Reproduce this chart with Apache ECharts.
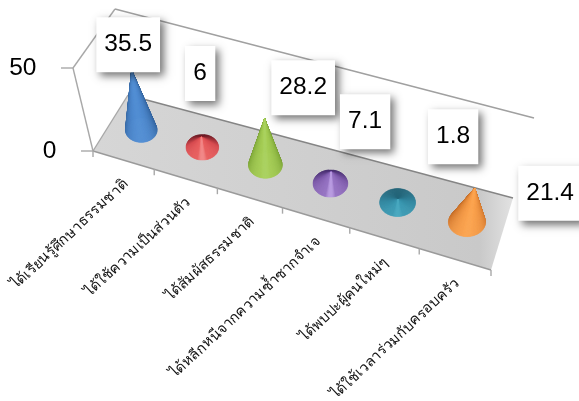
<!DOCTYPE html>
<html>
<head>
<meta charset="utf-8">
<style>html,body{margin:0;padding:0;background:#fff}#chart{width:579px;height:401px}</style>
<script src="https://cdn.jsdelivr.net/npm/echarts@6/dist/echarts.min.js"></script>
</head>
<body>
<div id="chart"></div>
<script>
// Survey answers, drawn as cones on a tilted 3D floor.
const categories = ['ได้เรียนรู้ศึกษาธรรมชาติ','ได้ใช้ความเป็นส่วนตัว','ได้สัมผัสธรรมชาติ','ได้หลีกหนีจากความซ้ำซากจำเจ','ได้พบปะผู้คนใหม่ๆ','ได้ใช้เวลาร่วมกับครอบครัว'];
const values = [35.5, 6, 28.2, 7.1, 1.8, 21.4];
const yTicks = [0, 50];

// Frame corners of the tilted box, front-left / front-right / back-right / back-left.
const FLOOR = [[93,151],[491,270],[513,198],[128,95]];
const CEIL  = [[73,68],[513,192],[534,118],[115,9]];
const PERSPECTIVE = 1.1;
const CONE_DEPTH = 0.525;
const FONT = '"Liberation Sans", Arial, sans-serif';

const lerp = (a, b, t) => a + (b - a) * t;
const lerp2 = (p, q, t) => [lerp(p[0], q[0], t), lerp(p[1], q[1], t)];
const warp = u => u / (u + (1 - u) * PERSPECTIVE);
function onPlane(q, u, v) {
  const w = warp(u);
  return lerp2(lerp2(q[0], q[1], w), lerp2(q[3], q[2], w), v);
}
// Turns a (category, value) pair, read through the chart's axes, into a point of the tilted box.
function locate(params, api, cat, value, depth) {
  const cs = params.coordSys;
  const base = api.coord([0, value]);
  const band = api.size([1, 0])[0];
  const u = (base[0] + cat * band - cs.x) / cs.width;
  const h = (cs.y + cs.height - base[1]) / cs.height;
  return lerp2(onPlane(FLOOR, u, depth), onPlane(CEIL, u, depth), h);
}
const line = (p, q, stroke, lineWidth) => ({
  type: 'line', silent: true,
  shape: { x1: p[0], y1: p[1], x2: q[0], y2: q[1] },
  style: { stroke, lineWidth: lineWidth || 1.4 }
});

function renderFrame(params, api) {
  const at = (c, v, d) => locate(params, api, c, v, d);
  const gray = '#a8a8a8';
  const children = [];
  children.push({
    type: 'polygon', silent: true,
    shape: { points: [at(-0.5,0,0), at(5.5,0,0), at(5.5,0,1), at(-0.5,0,1)] },
    style: { fill: new echarts.graphic.LinearGradient(0, 0, 1, 0, [
      { offset: 0, color: '#d6d6d6' }, { offset: 0.45, color: '#d0d0d0' },
      { offset: 0.92, color: '#c9c9c9' }, { offset: 1, color: '#e2e2e2' }]) }
  });
  children.push(line(at(-0.5,50,0), at(-0.5,50,1), gray));
  children.push(line(at(-0.5,50,1), at(5.5,50,1), '#a0a0a0'));
  children.push(line(at(-0.5,0,0), at(-0.5,50,0), gray));
  children.push(line(at(-0.5,0,0), at(-0.5,0,1), gray));
  children.push(line(at(-0.5,0,1), at(5.5,0,1), '#858585'));
  children.push(line(at(-0.5,0,0), at(5.5,0,0), '#9a9a9a'));
  for (let i = 0; i <= categories.length; i++) {
    const p = at(i - 0.5, 0, 0);
    children.push(line(p, [p[0], p[1] + 6], gray));
  }
  return { type: 'group', children };
}

function renderYLabel(params, api) {
  const p = locate(params, api, -0.5, api.value(1), 0);
  return { type: 'group', children: [
    line([p[0] - 12, p[1]], p, '#a8a8a8'),
    { type: 'text', silent: true, x: p[0] - 36.5, y: p[1] + 0.5,
      style: { text: String(api.value(1)), fill: '#000', font: '24.5px ' + FONT, align: 'right', verticalAlign: 'middle' } }
  ]};
}

function renderXLabel(params, api) {
  const i = api.value(0);
  const p = locate(params, api, i, 0, 0);
  return { type: 'text', silent: true, x: p[0] + 2, y: p[1] + 22, rotation: 43 * Math.PI / 180,
    style: { text: categories[i], fill: '#111', font: '14.5px "Noto Sans", sans-serif', align: 'right', verticalAlign: 'middle' } };
}

// back, side, front and highlight tones of each cone
const conePalette = [
  [[40,80,130],[55,105,165],[80,140,210],[82,142,212]],
  [[105,25,35],[215,75,80],[232,95,95],[242,135,135]],
  [[90,120,40],[130,170,60],[165,205,85],[170,210,95]],
  [[70,45,110],[125,90,170],[150,115,195],[185,155,225]],
  [[35,100,120],[50,135,160],[60,155,180],[72,168,192]],
  [[170,90,30],[215,125,50],[250,160,75],[252,165,80]]
];
function coneShade(pal, t) {
  const mix = (a, b, s) => a.map((c, k) => Math.round(lerp(c, b[k], s)));
  let c;
  if (t < 0) c = mix(pal[1], pal[0], -t);
  else if (t < 0.96) c = mix(pal[1], pal[2], t / 0.96);
  else c = mix(pal[2], pal[3], (t - 0.96) / 0.04);
  return 'rgb(' + c.join(',') + ')';
}
function renderCone(params, api) {
  const i = api.value(0);
  const base = locate(params, api, i, 0, CONE_DEPTH);
  const tip = locate(params, api, i, api.value(1), CONE_DEPTH);
  const rx = (locate(params, api, i + 0.5, 0, CONE_DEPTH)[0] - locate(params, api, i - 0.5, 0, CONE_DEPTH)[0]) * 0.262;
  const ry = rx * 0.78;
  const pal = conePalette[i];
  const N = 120;
  const sectors = [];
  for (let k = 0; k < N; k++) {
    const a0 = k / N * 2 * Math.PI, a1 = (k + 1) / N * 2 * Math.PI, mid = (a0 + a1) / 2;
    sectors.push({
      key: Math.sin(mid),
      el: { type: 'polygon', silent: true,
        shape: { points: [tip,
          [base[0] + rx * Math.cos(a0), base[1] + ry * Math.sin(a0)],
          [base[0] + rx * Math.cos(a1), base[1] + ry * Math.sin(a1)]] },
        style: (c => ({ fill: c, stroke: c, lineWidth: 0.6 }))(coneShade(pal, Math.cos(mid - Math.PI / 2))) }
    });
  }
  sectors.sort((a, b) => a.key - b.key);
  return { type: 'group', children: sectors.map(s => s.el) };
}

// Label box centres, given as shifts from the tip of each cone.
const labelShift = [[-3.5,-25.6],[-1.3,-63.8],[38.6,-31],[34,-50.3],[55.1,-63],[75.4,5.2]];
function renderValueLabel(params, api) {
  const i = api.value(0);
  const v = api.value(1);
  const tip = locate(params, api, i, v, CONE_DEPTH);
  const cx = tip[0] + labelShift[i][0], cy = tip[1] + labelShift[i][1];
  const text = String(v);
  const w = echarts.format.getTextRect ? echarts.format.getTextRect(text, '24px ' + FONT).width + 17 : text.length * 13 + 17;
  return { type: 'group', children: [
    { type: 'rect', silent: true, shape: { x: cx - w / 2, y: cy - 27.5, width: w, height: 55 },
      style: { fill: '#fff', shadowColor: 'rgba(0,0,0,0.55)', shadowBlur: 8, shadowOffsetX: 4, shadowOffsetY: 4 } },
    { type: 'text', silent: true, x: cx, y: cy,
      style: { text, fill: '#000', font: '24.5px ' + FONT, align: 'center', verticalAlign: 'middle' } }
  ]};
}

const chart = echarts.init(document.getElementById('chart'), null, { renderer: 'canvas' });
const points = values.map((v, i) => [i, v]);
chart.setOption({
  animation: false,
  backgroundColor: '#fff',
  grid: { left: 90, top: 20, width: 400, height: 130 },
  xAxis: { type: 'category', data: categories, show: false },
  yAxis: { type: 'value', min: 0, max: 50, interval: 50, show: false },
  series: [
    { type: 'custom', silent: true, clip: false, z: 1, renderItem: renderFrame, data: [[0, 0]] },
    { type: 'custom', silent: true, clip: false, z: 2, renderItem: renderYLabel, data: yTicks.map(v => [0, v]) },
    { type: 'custom', silent: true, clip: false, z: 2, renderItem: renderXLabel, data: categories.map((c, i) => [i, 0]) },
    { type: 'custom', silent: true, clip: false, z: 3, renderItem: renderCone, data: points },
    { type: 'custom', silent: true, clip: false, z: 4, renderItem: renderValueLabel, data: points }
  ]
});
</script>
</body>
</html>
